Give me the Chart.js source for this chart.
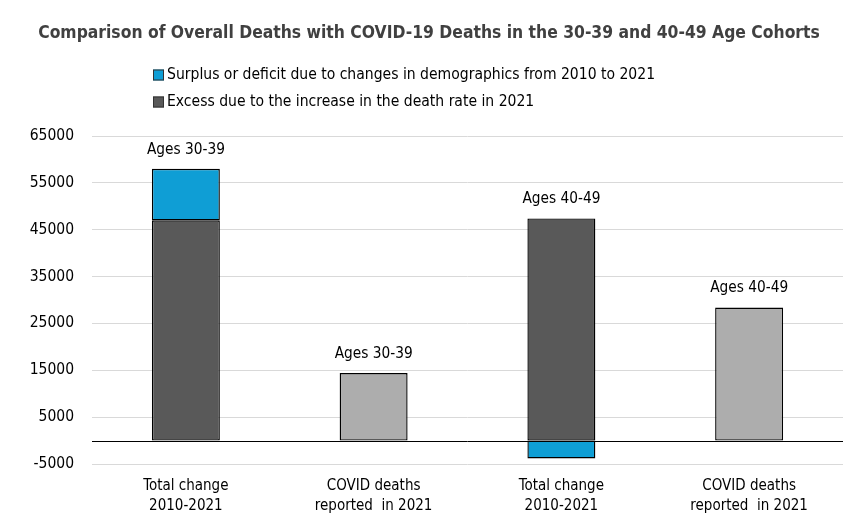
<!DOCTYPE html>
<html><head><meta charset="utf-8">
<script src="https://cdn.jsdelivr.net/npm/chart.js@4/dist/chart.umd.min.js"></script>
<style>html,body{margin:0;padding:0;background:#fff}#wrap{width:856px;height:525px}</style>
</head><body><div id="wrap"><canvas id="c" width="856" height="525"></canvas></div>
<script>
const categories = [["Total change","2010-2021"],["COVID deaths","reported  in 2021"],["Total change","2010-2021"],["COVID deaths","reported  in 2021"]];
const excessDeathRate = [47000, null, 47400, null];
const demographicChange = [11000, null, -3800, null];
const covidDeaths = [null, 14400, null, 28400];
const barLabels = ["Ages 30-39","Ages 30-39","Ages 40-49","Ages 40-49"];
const seriesNames = ["Surplus or deficit due to changes in demographics from 2010 to 2021","Excess due to the increase in the death rate in 2021","COVID deaths reported in 2021"];
const titleText = "Comparison of Overall Deaths with COVID-19 Deaths in the 30-39 and 40-49 Age Cohorts";
const yMin = -5000, yMax = 65000, yStep = 10000;

const FONT = "'DejaVu Sans Condensed','Liberation Sans Narrow',sans-serif";
const BLUE = '#0F9ED5', DARK = '#595959', GRAY = '#ADADAD';

function fitFont(ctx, text, weight, targetWidth) {
  ctx.font = weight + ' 20px ' + FONT;
  const w = ctx.measureText(text).width;
  return weight + ' ' + (20 * targetWidth / w).toFixed(2) + 'px ' + FONT;
}

const overlay = {
  id: 'overlay',
  afterDatasetsDraw(chart) {
    const ctx = chart.ctx, x = chart.scales.x, y = chart.scales.y, a = chart.chartArea;
    ctx.save();
    const y0 = Math.round(y.getPixelForValue(0)) + 0.5;
    ctx.strokeStyle = '#000'; ctx.lineWidth = 1;
    ctx.beginPath(); ctx.moveTo(a.left, y0); ctx.lineTo(a.right, y0); ctx.stroke();
    ctx.fillStyle = '#000'; ctx.font = fitFont(ctx, barLabels[0], 'normal', 78);
    ctx.textAlign = 'center'; ctx.textBaseline = 'middle';
    categories.forEach((c, i) => {
      let top = 0;
      chart.data.datasets.forEach(ds => { const v = ds.data[i]; if (v != null && v > 0) top += v; });
      ctx.fillText(barLabels[i], x.getPixelForValue(i), y.getPixelForValue(top) - 19);
    });
    ctx.restore();
  },
  afterDraw(chart) {
    const ctx = chart.ctx;
    ctx.save();
    ctx.fillStyle = '#404040'; ctx.font = fitFont(ctx, titleText, 'bold', 782);
    ctx.textAlign = 'center'; ctx.textBaseline = 'middle';
    ctx.fillText(titleText, 429, 33);
    const items = [[seriesNames[0], BLUE], [seriesNames[1], DARK]];
    ctx.font = fitFont(ctx, seriesNames[0], 'normal', 488); ctx.textAlign = 'left';
    items.forEach((it, k) => {
      const cy = 75 + k * 27;
      ctx.fillStyle = it[1]; ctx.fillRect(153, cy - 5.5, 11, 11);
      ctx.strokeStyle = '#333'; ctx.lineWidth = 1; ctx.strokeRect(153.5, cy - 5, 10, 10);
      ctx.fillStyle = '#000'; ctx.fillText(it[0], 167, cy);
    });
    ctx.restore();
  }
};

new Chart(document.getElementById('c'), {
  type: 'bar',
  data: {
    labels: categories,
    datasets: [
      { label: seriesNames[1], data: excessDeathRate, backgroundColor: DARK },
      { label: seriesNames[0], data: demographicChange, backgroundColor: BLUE },
      { label: seriesNames[2], data: covidDeaths, backgroundColor: GRAY }
    ].map(d => Object.assign(d, { borderColor: '#000', borderWidth: 1.4, borderSkipped: false, barPercentage: 0.362, categoryPercentage: 1 }))
  },
  options: {
    responsive: false, animation: false,
    layout: { padding: { top: 136, right: 13, bottom: 0, left: 0 } },
    plugins: { legend: { display: false }, title: { display: false }, tooltip: { enabled: false } },
    scales: {
      x: {
        stacked: true,
        grid: { display: false }, border: { display: false },
        ticks: { color: '#000', font: { family: FONT, size: 15, lineHeight: 1.33 }, padding: 4, maxRotation: 0, autoSkip: false },
        afterFit: s => { s.height = 61; }
      },
      y: {
        stacked: true, min: yMin, max: yMax,
        grid: { color: '#D9D9D9', lineWidth: 1, drawTicks: false }, border: { display: false },
        ticks: { stepSize: yStep, color: '#000', font: { family: FONT, size: 15.5 }, padding: 18, callback: v => String(v) },
        afterFit: s => { s.width = 92; }
      }
    }
  },
  plugins: [overlay]
});
</script></body></html>
